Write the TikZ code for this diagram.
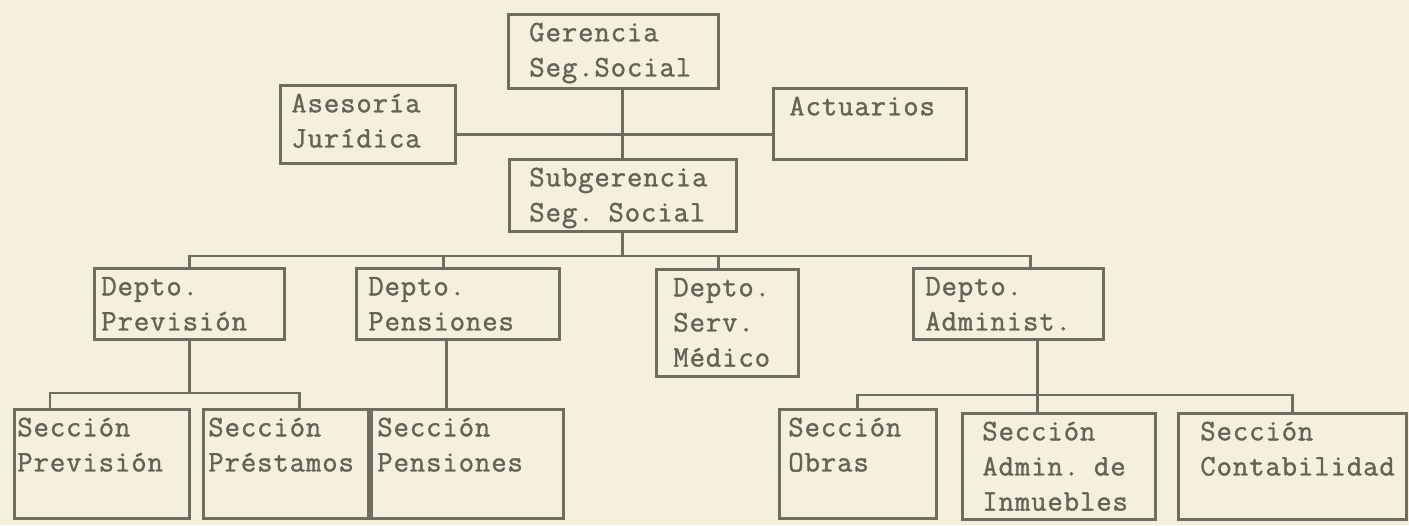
\documentclass[tikz,border=0pt]{standalone}
\usepackage{fontspec}
\usepackage{xcolor}
\usepackage{tikz}
\usetikzlibrary{positioning,calc}
\newfontfamily\typefont{Latin Modern Mono}[LetterSpace=3,FakeBold=1.2]
\definecolor{paper}{RGB}{244,240,221}
\definecolor{ink}{RGB}{100,100,86}
\definecolor{rule}{RGB}{110,110,96}

\begin{document}
\begin{tikzpicture}[
    x=0.02cm, y=-0.02cm,
    unit/.style={rectangle, draw=rule, line width=1.5pt, anchor=north west, align=left, inner ysep=0pt, text height=0.54cm, text=ink, font=\typefont\fontsize{17pt}{20pt}\selectfont},
    dept/.style={unit, text depth=0.88cm},
    sect/.style={unit, text depth=1.64cm},
    link/.style={draw=rule, line width=1.5pt}
]

% Paper
\fill[paper] (0,0) rectangle (1409,525);
\useasboundingbox (0,0) rectangle (1409,525);

% Top level
\node[unit, inner xsep=0.42cm, text width=3.36cm, text depth=0.94cm] (g) at (507,13) {Gerencia\\Seg.Social};
\node[unit, inner xsep=0.22cm, text width=3.06cm, text depth=1.02cm] (ase) at (279,84) {Asesoría\\Jurídica};
\node[unit, inner xsep=0.32cm, text width=3.22cm, text depth=0.88cm] (act) at (772,87) {Actuarios};
\node[unit, inner xsep=0.4cm, text width=3.74cm, text depth=0.9cm] (sg) at (508,158) {Subgerencia\\Seg. Social};

% Departments
\node[dept, inner xsep=0.14cm, text width=3.52cm] (d1) at (93,267) {Depto.\\Previsión};
\node[dept, inner xsep=0.24cm, text width=3.58cm] (d2) at (355,267) {Depto.\\Pensiones};
\node[unit, inner xsep=0.34cm, text width=2.16cm, text depth=1.6cm] (d3) at (655,268) {Depto.\\Serv.\\Médico};
\node[dept, inner xsep=0.24cm, text width=3.32cm] (d4) at (912,267) {Depto.\\Administ.};

% Sections
\node[sect, inner xsep=0.06cm, text width=3.38cm] (s1a) at (13,408) {Sección\\Previsión};
\node[sect, inner xsep=0.1cm, text width=3.1cm] (s1b) at (202,408) {Sección\\Préstamos};
\node[sect, inner xsep=0.12cm, text width=3.6cm] (s2a) at (370,408) {Sección\\Pensiones};
\node[sect, inner xsep=0.18cm, text width=2.78cm] (s4a) at (778,408) {Sección\\Obras};
\node[unit, inner xsep=0.4cm, text width=3.06cm, text depth=1.58cm] (s4b) at (961,412) {Sección\\Admin. de\\Inmuebles};
\node[unit, inner xsep=0.44cm, text width=3.68cm, text depth=1.58cm] (s4c) at (1177,412) {Sección\\Contabilidad};

% Top links
\draw[link] (g.south -| sg.north) -- (sg.north);
\draw[link] ([yshift=-0.2cm]ase.east) -- ([yshift=-0.2cm]ase.east -| act.west);

% Department bus
\coordinate (bus) at (624,256);
\draw[link] (sg.south) -- (sg.south |- bus);
\draw[link] (d1.north) -- (d1.north |- bus) -- ([xshift=0.44cm]d4.north |- bus) -- ([xshift=0.44cm]d4.north);
\draw[link] ([xshift=-0.28cm]d2.north) -- ([xshift=-0.28cm]d2.north |- bus);
\draw[link] ([xshift=-0.18cm]d3.north) -- ([xshift=-0.18cm]d3.north |- bus);

% Left sections
\coordinate (lbus) at (192,393);
\draw[link] (d1.south) -- (d1.south |- lbus);
\draw[link] ([xshift=0.74cm]s1a.north west) -- ([xshift=0.74cm]s1a.north west |- lbus) -- ([xshift=-1.4cm]s1b.north east |- lbus) -- ([xshift=-1.4cm]s1b.north east);
\draw[link] ([xshift=-0.23cm]d2.south) -- ([xshift=-0.23cm]d2.south |- s2a.north);

% Right sections
\coordinate (rbus) at (1036,395);
\draw[link] ([xshift=0.58cm]d4.south) -- ([xshift=0.58cm]d4.south |- s4b.north);
\draw[link] (s4a.north) -- (s4a.north |- rbus) -- (s4c.north |- rbus) -- (s4c.north);

\end{tikzpicture}
\end{document}
